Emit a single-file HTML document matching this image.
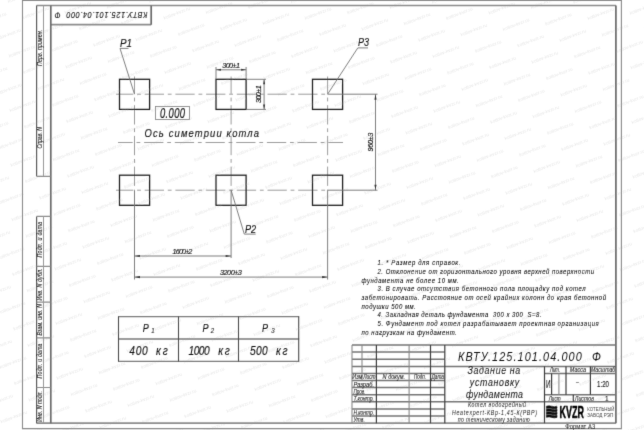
<!DOCTYPE html>
<html><head><meta charset="utf-8">
<style>
html,body{margin:0;padding:0;background:#fff;}
body{width:644px;height:430px;overflow:hidden;}
svg{display:block;filter:grayscale(1);}
text{font-family:"Liberation Sans",sans-serif;white-space:pre;stroke:#111;}
text.wm{stroke:none;}
</style></head><body>
<svg width="644" height="430" viewBox="0 0 644 430" fill="#111">
<defs><filter id="bl" x="0" y="0" width="644" height="430" filterUnits="userSpaceOnUse"><feConvolveMatrix order="3" kernelMatrix="0.01 0.08 0.01 0.08 0.64 0.08 0.01 0.08 0.01" edgeMode="duplicate"/></filter></defs>
<rect x="0" y="0" width="644" height="430" fill="#fff"/>
<g filter="url(#bl)">

<defs><g id="wm"><text class="wm" x="-14" y="1.5" font-size="4.6" textLength="28" lengthAdjust="spacingAndGlyphs" fill="#e6e6e6" transform="rotate(-21)">kotlov-kvzr.ru</text></g></defs>
<g>
<use href="#wm" x="-14.0" y="438.7"/>
<use href="#wm" x="-14.9" y="384.1"/>
<use href="#wm" x="-0.5" y="400.5"/>
<use href="#wm" x="13.9" y="416.9"/>
<use href="#wm" x="28.3" y="433.3"/>
<use href="#wm" x="-15.8" y="329.5"/>
<use href="#wm" x="-1.4" y="345.9"/>
<use href="#wm" x="13.0" y="362.3"/>
<use href="#wm" x="27.4" y="378.7"/>
<use href="#wm" x="41.8" y="395.1"/>
<use href="#wm" x="56.2" y="411.5"/>
<use href="#wm" x="70.6" y="427.9"/>
<use href="#wm" x="-16.7" y="274.9"/>
<use href="#wm" x="-2.3" y="291.3"/>
<use href="#wm" x="12.1" y="307.7"/>
<use href="#wm" x="26.5" y="324.1"/>
<use href="#wm" x="40.9" y="340.5"/>
<use href="#wm" x="55.3" y="356.9"/>
<use href="#wm" x="69.7" y="373.3"/>
<use href="#wm" x="84.1" y="389.7"/>
<use href="#wm" x="98.5" y="406.1"/>
<use href="#wm" x="112.9" y="422.5"/>
<use href="#wm" x="127.3" y="438.9"/>
<use href="#wm" x="-17.6" y="220.3"/>
<use href="#wm" x="-3.2" y="236.7"/>
<use href="#wm" x="11.2" y="253.1"/>
<use href="#wm" x="25.6" y="269.5"/>
<use href="#wm" x="40.0" y="285.9"/>
<use href="#wm" x="54.4" y="302.3"/>
<use href="#wm" x="68.8" y="318.7"/>
<use href="#wm" x="83.2" y="335.1"/>
<use href="#wm" x="97.6" y="351.5"/>
<use href="#wm" x="112.0" y="367.9"/>
<use href="#wm" x="126.4" y="384.3"/>
<use href="#wm" x="140.8" y="400.7"/>
<use href="#wm" x="155.2" y="417.1"/>
<use href="#wm" x="169.6" y="433.5"/>
<use href="#wm" x="-18.5" y="165.7"/>
<use href="#wm" x="-4.1" y="182.1"/>
<use href="#wm" x="10.3" y="198.5"/>
<use href="#wm" x="24.7" y="214.9"/>
<use href="#wm" x="39.1" y="231.3"/>
<use href="#wm" x="53.5" y="247.7"/>
<use href="#wm" x="67.9" y="264.1"/>
<use href="#wm" x="82.3" y="280.5"/>
<use href="#wm" x="96.7" y="296.9"/>
<use href="#wm" x="111.1" y="313.3"/>
<use href="#wm" x="125.5" y="329.7"/>
<use href="#wm" x="139.9" y="346.1"/>
<use href="#wm" x="154.3" y="362.5"/>
<use href="#wm" x="168.7" y="378.9"/>
<use href="#wm" x="183.1" y="395.3"/>
<use href="#wm" x="197.5" y="411.7"/>
<use href="#wm" x="211.9" y="428.1"/>
<use href="#wm" x="-19.4" y="111.1"/>
<use href="#wm" x="-5.0" y="127.5"/>
<use href="#wm" x="9.4" y="143.9"/>
<use href="#wm" x="23.8" y="160.3"/>
<use href="#wm" x="38.2" y="176.7"/>
<use href="#wm" x="52.6" y="193.1"/>
<use href="#wm" x="67.0" y="209.5"/>
<use href="#wm" x="81.4" y="225.9"/>
<use href="#wm" x="95.8" y="242.3"/>
<use href="#wm" x="110.2" y="258.7"/>
<use href="#wm" x="124.6" y="275.1"/>
<use href="#wm" x="139.0" y="291.5"/>
<use href="#wm" x="153.4" y="307.9"/>
<use href="#wm" x="167.8" y="324.3"/>
<use href="#wm" x="182.2" y="340.7"/>
<use href="#wm" x="196.6" y="357.1"/>
<use href="#wm" x="211.0" y="373.5"/>
<use href="#wm" x="225.4" y="389.9"/>
<use href="#wm" x="239.8" y="406.3"/>
<use href="#wm" x="254.2" y="422.7"/>
<use href="#wm" x="268.6" y="439.1"/>
<use href="#wm" x="-5.9" y="72.9"/>
<use href="#wm" x="8.5" y="89.3"/>
<use href="#wm" x="22.9" y="105.7"/>
<use href="#wm" x="37.3" y="122.1"/>
<use href="#wm" x="51.7" y="138.5"/>
<use href="#wm" x="66.1" y="154.9"/>
<use href="#wm" x="80.5" y="171.3"/>
<use href="#wm" x="94.9" y="187.7"/>
<use href="#wm" x="109.3" y="204.1"/>
<use href="#wm" x="123.7" y="220.5"/>
<use href="#wm" x="138.1" y="236.9"/>
<use href="#wm" x="152.5" y="253.3"/>
<use href="#wm" x="166.9" y="269.7"/>
<use href="#wm" x="181.3" y="286.1"/>
<use href="#wm" x="195.7" y="302.5"/>
<use href="#wm" x="210.1" y="318.9"/>
<use href="#wm" x="224.5" y="335.3"/>
<use href="#wm" x="238.9" y="351.7"/>
<use href="#wm" x="253.3" y="368.1"/>
<use href="#wm" x="267.7" y="384.5"/>
<use href="#wm" x="282.1" y="400.9"/>
<use href="#wm" x="296.5" y="417.3"/>
<use href="#wm" x="310.9" y="433.7"/>
<use href="#wm" x="-6.8" y="18.3"/>
<use href="#wm" x="7.6" y="34.7"/>
<use href="#wm" x="22.0" y="51.1"/>
<use href="#wm" x="36.4" y="67.5"/>
<use href="#wm" x="50.8" y="83.9"/>
<use href="#wm" x="65.2" y="100.3"/>
<use href="#wm" x="79.6" y="116.7"/>
<use href="#wm" x="94.0" y="133.1"/>
<use href="#wm" x="108.4" y="149.5"/>
<use href="#wm" x="122.8" y="165.9"/>
<use href="#wm" x="137.2" y="182.3"/>
<use href="#wm" x="151.6" y="198.7"/>
<use href="#wm" x="166.0" y="215.1"/>
<use href="#wm" x="180.4" y="231.5"/>
<use href="#wm" x="194.8" y="247.9"/>
<use href="#wm" x="209.2" y="264.3"/>
<use href="#wm" x="223.6" y="280.7"/>
<use href="#wm" x="238.0" y="297.1"/>
<use href="#wm" x="252.4" y="313.5"/>
<use href="#wm" x="266.8" y="329.9"/>
<use href="#wm" x="281.2" y="346.3"/>
<use href="#wm" x="295.6" y="362.7"/>
<use href="#wm" x="310.0" y="379.1"/>
<use href="#wm" x="324.4" y="395.5"/>
<use href="#wm" x="338.8" y="411.9"/>
<use href="#wm" x="353.2" y="428.3"/>
<use href="#wm" x="21.1" y="-3.5"/>
<use href="#wm" x="35.5" y="12.9"/>
<use href="#wm" x="49.9" y="29.3"/>
<use href="#wm" x="64.3" y="45.7"/>
<use href="#wm" x="78.7" y="62.1"/>
<use href="#wm" x="93.1" y="78.5"/>
<use href="#wm" x="107.5" y="94.9"/>
<use href="#wm" x="121.9" y="111.3"/>
<use href="#wm" x="136.3" y="127.7"/>
<use href="#wm" x="150.7" y="144.1"/>
<use href="#wm" x="165.1" y="160.5"/>
<use href="#wm" x="179.5" y="176.9"/>
<use href="#wm" x="193.9" y="193.3"/>
<use href="#wm" x="208.3" y="209.7"/>
<use href="#wm" x="222.7" y="226.1"/>
<use href="#wm" x="237.1" y="242.5"/>
<use href="#wm" x="251.5" y="258.9"/>
<use href="#wm" x="265.9" y="275.3"/>
<use href="#wm" x="280.3" y="291.7"/>
<use href="#wm" x="294.7" y="308.1"/>
<use href="#wm" x="309.1" y="324.5"/>
<use href="#wm" x="323.5" y="340.9"/>
<use href="#wm" x="337.9" y="357.3"/>
<use href="#wm" x="352.3" y="373.7"/>
<use href="#wm" x="366.7" y="390.1"/>
<use href="#wm" x="381.1" y="406.5"/>
<use href="#wm" x="395.5" y="422.9"/>
<use href="#wm" x="409.9" y="439.3"/>
<use href="#wm" x="63.4" y="-8.9"/>
<use href="#wm" x="77.8" y="7.5"/>
<use href="#wm" x="92.2" y="23.9"/>
<use href="#wm" x="106.6" y="40.3"/>
<use href="#wm" x="121.0" y="56.7"/>
<use href="#wm" x="135.4" y="73.1"/>
<use href="#wm" x="149.8" y="89.5"/>
<use href="#wm" x="164.2" y="105.9"/>
<use href="#wm" x="178.6" y="122.3"/>
<use href="#wm" x="193.0" y="138.7"/>
<use href="#wm" x="207.4" y="155.1"/>
<use href="#wm" x="221.8" y="171.5"/>
<use href="#wm" x="236.2" y="187.9"/>
<use href="#wm" x="250.6" y="204.3"/>
<use href="#wm" x="265.0" y="220.7"/>
<use href="#wm" x="279.4" y="237.1"/>
<use href="#wm" x="293.8" y="253.5"/>
<use href="#wm" x="308.2" y="269.9"/>
<use href="#wm" x="322.6" y="286.3"/>
<use href="#wm" x="337.0" y="302.7"/>
<use href="#wm" x="351.4" y="319.1"/>
<use href="#wm" x="365.8" y="335.5"/>
<use href="#wm" x="380.2" y="351.9"/>
<use href="#wm" x="394.6" y="368.3"/>
<use href="#wm" x="409.0" y="384.7"/>
<use href="#wm" x="423.4" y="401.1"/>
<use href="#wm" x="437.8" y="417.5"/>
<use href="#wm" x="452.2" y="433.9"/>
<use href="#wm" x="120.1" y="2.1"/>
<use href="#wm" x="134.5" y="18.5"/>
<use href="#wm" x="148.9" y="34.9"/>
<use href="#wm" x="163.3" y="51.3"/>
<use href="#wm" x="177.7" y="67.7"/>
<use href="#wm" x="192.1" y="84.1"/>
<use href="#wm" x="206.5" y="100.5"/>
<use href="#wm" x="220.9" y="116.9"/>
<use href="#wm" x="235.3" y="133.3"/>
<use href="#wm" x="249.7" y="149.7"/>
<use href="#wm" x="264.1" y="166.1"/>
<use href="#wm" x="278.5" y="182.5"/>
<use href="#wm" x="292.9" y="198.9"/>
<use href="#wm" x="307.3" y="215.3"/>
<use href="#wm" x="321.7" y="231.7"/>
<use href="#wm" x="336.1" y="248.1"/>
<use href="#wm" x="350.5" y="264.5"/>
<use href="#wm" x="364.9" y="280.9"/>
<use href="#wm" x="379.3" y="297.3"/>
<use href="#wm" x="393.7" y="313.7"/>
<use href="#wm" x="408.1" y="330.1"/>
<use href="#wm" x="422.5" y="346.5"/>
<use href="#wm" x="436.9" y="362.9"/>
<use href="#wm" x="451.3" y="379.3"/>
<use href="#wm" x="465.7" y="395.7"/>
<use href="#wm" x="480.1" y="412.1"/>
<use href="#wm" x="494.5" y="428.5"/>
<use href="#wm" x="162.4" y="-3.3"/>
<use href="#wm" x="176.8" y="13.1"/>
<use href="#wm" x="191.2" y="29.5"/>
<use href="#wm" x="205.6" y="45.9"/>
<use href="#wm" x="220.0" y="62.3"/>
<use href="#wm" x="234.4" y="78.7"/>
<use href="#wm" x="248.8" y="95.1"/>
<use href="#wm" x="263.2" y="111.5"/>
<use href="#wm" x="277.6" y="127.9"/>
<use href="#wm" x="292.0" y="144.3"/>
<use href="#wm" x="306.4" y="160.7"/>
<use href="#wm" x="320.8" y="177.1"/>
<use href="#wm" x="335.2" y="193.5"/>
<use href="#wm" x="349.6" y="209.9"/>
<use href="#wm" x="364.0" y="226.3"/>
<use href="#wm" x="378.4" y="242.7"/>
<use href="#wm" x="392.8" y="259.1"/>
<use href="#wm" x="407.2" y="275.5"/>
<use href="#wm" x="421.6" y="291.9"/>
<use href="#wm" x="436.0" y="308.3"/>
<use href="#wm" x="450.4" y="324.7"/>
<use href="#wm" x="464.8" y="341.1"/>
<use href="#wm" x="479.2" y="357.5"/>
<use href="#wm" x="493.6" y="373.9"/>
<use href="#wm" x="508.0" y="390.3"/>
<use href="#wm" x="522.4" y="406.7"/>
<use href="#wm" x="536.8" y="423.1"/>
<use href="#wm" x="551.2" y="439.5"/>
<use href="#wm" x="204.7" y="-8.7"/>
<use href="#wm" x="219.1" y="7.7"/>
<use href="#wm" x="233.5" y="24.1"/>
<use href="#wm" x="247.9" y="40.5"/>
<use href="#wm" x="262.3" y="56.9"/>
<use href="#wm" x="276.7" y="73.3"/>
<use href="#wm" x="291.1" y="89.7"/>
<use href="#wm" x="305.5" y="106.1"/>
<use href="#wm" x="319.9" y="122.5"/>
<use href="#wm" x="334.3" y="138.9"/>
<use href="#wm" x="348.7" y="155.3"/>
<use href="#wm" x="363.1" y="171.7"/>
<use href="#wm" x="377.5" y="188.1"/>
<use href="#wm" x="391.9" y="204.5"/>
<use href="#wm" x="406.3" y="220.9"/>
<use href="#wm" x="420.7" y="237.3"/>
<use href="#wm" x="435.1" y="253.7"/>
<use href="#wm" x="449.5" y="270.1"/>
<use href="#wm" x="463.9" y="286.5"/>
<use href="#wm" x="478.3" y="302.9"/>
<use href="#wm" x="492.7" y="319.3"/>
<use href="#wm" x="507.1" y="335.7"/>
<use href="#wm" x="521.5" y="352.1"/>
<use href="#wm" x="535.9" y="368.5"/>
<use href="#wm" x="550.3" y="384.9"/>
<use href="#wm" x="564.7" y="401.3"/>
<use href="#wm" x="579.1" y="417.7"/>
<use href="#wm" x="593.5" y="434.1"/>
<use href="#wm" x="261.4" y="2.3"/>
<use href="#wm" x="275.8" y="18.7"/>
<use href="#wm" x="290.2" y="35.1"/>
<use href="#wm" x="304.6" y="51.5"/>
<use href="#wm" x="319.0" y="67.9"/>
<use href="#wm" x="333.4" y="84.3"/>
<use href="#wm" x="347.8" y="100.7"/>
<use href="#wm" x="362.2" y="117.1"/>
<use href="#wm" x="376.6" y="133.5"/>
<use href="#wm" x="391.0" y="149.9"/>
<use href="#wm" x="405.4" y="166.3"/>
<use href="#wm" x="419.8" y="182.7"/>
<use href="#wm" x="434.2" y="199.1"/>
<use href="#wm" x="448.6" y="215.5"/>
<use href="#wm" x="463.0" y="231.9"/>
<use href="#wm" x="477.4" y="248.3"/>
<use href="#wm" x="491.8" y="264.7"/>
<use href="#wm" x="506.2" y="281.1"/>
<use href="#wm" x="520.6" y="297.5"/>
<use href="#wm" x="535.0" y="313.9"/>
<use href="#wm" x="549.4" y="330.3"/>
<use href="#wm" x="563.8" y="346.7"/>
<use href="#wm" x="578.2" y="363.1"/>
<use href="#wm" x="592.6" y="379.5"/>
<use href="#wm" x="607.0" y="395.9"/>
<use href="#wm" x="621.4" y="412.3"/>
<use href="#wm" x="635.8" y="428.7"/>
<use href="#wm" x="303.7" y="-3.1"/>
<use href="#wm" x="318.1" y="13.3"/>
<use href="#wm" x="332.5" y="29.7"/>
<use href="#wm" x="346.9" y="46.1"/>
<use href="#wm" x="361.3" y="62.5"/>
<use href="#wm" x="375.7" y="78.9"/>
<use href="#wm" x="390.1" y="95.3"/>
<use href="#wm" x="404.5" y="111.7"/>
<use href="#wm" x="418.9" y="128.1"/>
<use href="#wm" x="433.3" y="144.5"/>
<use href="#wm" x="447.7" y="160.9"/>
<use href="#wm" x="462.1" y="177.3"/>
<use href="#wm" x="476.5" y="193.7"/>
<use href="#wm" x="490.9" y="210.1"/>
<use href="#wm" x="505.3" y="226.5"/>
<use href="#wm" x="519.7" y="242.9"/>
<use href="#wm" x="534.1" y="259.3"/>
<use href="#wm" x="548.5" y="275.7"/>
<use href="#wm" x="562.9" y="292.1"/>
<use href="#wm" x="577.3" y="308.5"/>
<use href="#wm" x="591.7" y="324.9"/>
<use href="#wm" x="606.1" y="341.3"/>
<use href="#wm" x="620.5" y="357.7"/>
<use href="#wm" x="634.9" y="374.1"/>
<use href="#wm" x="649.3" y="390.5"/>
<use href="#wm" x="663.7" y="406.9"/>
<use href="#wm" x="346.0" y="-8.5"/>
<use href="#wm" x="360.4" y="7.9"/>
<use href="#wm" x="374.8" y="24.3"/>
<use href="#wm" x="389.2" y="40.7"/>
<use href="#wm" x="403.6" y="57.1"/>
<use href="#wm" x="418.0" y="73.5"/>
<use href="#wm" x="432.4" y="89.9"/>
<use href="#wm" x="446.8" y="106.3"/>
<use href="#wm" x="461.2" y="122.7"/>
<use href="#wm" x="475.6" y="139.1"/>
<use href="#wm" x="490.0" y="155.5"/>
<use href="#wm" x="504.4" y="171.9"/>
<use href="#wm" x="518.8" y="188.3"/>
<use href="#wm" x="533.2" y="204.7"/>
<use href="#wm" x="547.6" y="221.1"/>
<use href="#wm" x="562.0" y="237.5"/>
<use href="#wm" x="576.4" y="253.9"/>
<use href="#wm" x="590.8" y="270.3"/>
<use href="#wm" x="605.2" y="286.7"/>
<use href="#wm" x="619.6" y="303.1"/>
<use href="#wm" x="634.0" y="319.5"/>
<use href="#wm" x="648.4" y="335.9"/>
<use href="#wm" x="662.8" y="352.3"/>
<use href="#wm" x="402.7" y="2.5"/>
<use href="#wm" x="417.1" y="18.9"/>
<use href="#wm" x="431.5" y="35.3"/>
<use href="#wm" x="445.9" y="51.7"/>
<use href="#wm" x="460.3" y="68.1"/>
<use href="#wm" x="474.7" y="84.5"/>
<use href="#wm" x="489.1" y="100.9"/>
<use href="#wm" x="503.5" y="117.3"/>
<use href="#wm" x="517.9" y="133.7"/>
<use href="#wm" x="532.3" y="150.1"/>
<use href="#wm" x="546.7" y="166.5"/>
<use href="#wm" x="561.1" y="182.9"/>
<use href="#wm" x="575.5" y="199.3"/>
<use href="#wm" x="589.9" y="215.7"/>
<use href="#wm" x="604.3" y="232.1"/>
<use href="#wm" x="618.7" y="248.5"/>
<use href="#wm" x="633.1" y="264.9"/>
<use href="#wm" x="647.5" y="281.3"/>
<use href="#wm" x="661.9" y="297.7"/>
<use href="#wm" x="445.0" y="-2.9"/>
<use href="#wm" x="459.4" y="13.5"/>
<use href="#wm" x="473.8" y="29.9"/>
<use href="#wm" x="488.2" y="46.3"/>
<use href="#wm" x="502.6" y="62.7"/>
<use href="#wm" x="517.0" y="79.1"/>
<use href="#wm" x="531.4" y="95.5"/>
<use href="#wm" x="545.8" y="111.9"/>
<use href="#wm" x="560.2" y="128.3"/>
<use href="#wm" x="574.6" y="144.7"/>
<use href="#wm" x="589.0" y="161.1"/>
<use href="#wm" x="603.4" y="177.5"/>
<use href="#wm" x="617.8" y="193.9"/>
<use href="#wm" x="632.2" y="210.3"/>
<use href="#wm" x="646.6" y="226.7"/>
<use href="#wm" x="661.0" y="243.1"/>
<use href="#wm" x="487.3" y="-8.3"/>
<use href="#wm" x="501.7" y="8.1"/>
<use href="#wm" x="516.1" y="24.5"/>
<use href="#wm" x="530.5" y="40.9"/>
<use href="#wm" x="544.9" y="57.3"/>
<use href="#wm" x="559.3" y="73.7"/>
<use href="#wm" x="573.7" y="90.1"/>
<use href="#wm" x="588.1" y="106.5"/>
<use href="#wm" x="602.5" y="122.9"/>
<use href="#wm" x="616.9" y="139.3"/>
<use href="#wm" x="631.3" y="155.7"/>
<use href="#wm" x="645.7" y="172.1"/>
<use href="#wm" x="660.1" y="188.5"/>
<use href="#wm" x="544.0" y="2.7"/>
<use href="#wm" x="558.4" y="19.1"/>
<use href="#wm" x="572.8" y="35.5"/>
<use href="#wm" x="587.2" y="51.9"/>
<use href="#wm" x="601.6" y="68.3"/>
<use href="#wm" x="616.0" y="84.7"/>
<use href="#wm" x="630.4" y="101.1"/>
<use href="#wm" x="644.8" y="117.5"/>
<use href="#wm" x="659.2" y="133.9"/>
<use href="#wm" x="586.3" y="-2.7"/>
<use href="#wm" x="600.7" y="13.7"/>
<use href="#wm" x="615.1" y="30.1"/>
<use href="#wm" x="629.5" y="46.5"/>
<use href="#wm" x="643.9" y="62.9"/>
<use href="#wm" x="658.3" y="79.3"/>
<use href="#wm" x="628.6" y="-8.1"/>
<use href="#wm" x="643.0" y="8.3"/>
<use href="#wm" x="657.4" y="24.7"/>
</g>
<g fill="none" stroke="#8a8a8a" stroke-width="1.1"><path d="M22.5 0.4 H621.4 V428.6 H22.5 Z"/></g>
<g fill="none" stroke-width="1.7">
<path stroke="#8c8c8c" d="M36.6 5.5 H615.9 M36.5 423.2 H615.9 M50.6 24.7 H151.2"/>
<path stroke="#6a6a6a" d="M50.8 5.5 V423.2 M615.9 5.5 V423.2 M151.2 5.5 V24.7"/>
</g>
<g fill="none" stroke-width="1.2">
<path stroke="#5a5a5a" d="M36.6 5.5 V176.3 M36.6 216.4 V423.2"/>
<path stroke="#8c8c8c" d="M36.6 176.3 H50.6 M36.6 216.4 H50.6 M36.6 266.3 H50.6 M36.6 302.2 H50.6 M36.6 337.8 H50.6 M36.6 387.5 H50.6"/>
</g>
<g fill="none" stroke="#999" stroke-width="1"><path d="M43.5 5.5 V176.3 M43.5 216.4 V423.2"/></g>
<g fill="none" stroke="#8a8a8a" stroke-width="0.85" stroke-dasharray="19.3 3.8 3.8 3.8" stroke-dashoffset="2">
<path d="M116 94.2 H327.6"/>
<path d="M116 190.2 H327.6"/>
<path d="M118 142.5 H343" stroke-dashoffset="4.6"/>
<path d="M134.5 76.5 V190.2"/>
<path d="M231.1 76.5 V190.2"/>
<path d="M327.6 76.5 V190.2"/>
</g>
<g fill="none" stroke="#222" stroke-width="1.3">
<rect x="119.5" y="79.3" width="30.1" height="30.1"/>
<rect x="216.0" y="79.3" width="30.1" height="30.1"/>
<rect x="312.5" y="79.3" width="30.1" height="30.1"/>
<rect x="119.5" y="175.2" width="30.1" height="30.1"/>
<rect x="216.0" y="175.2" width="30.1" height="30.1"/>
<rect x="312.5" y="175.2" width="30.1" height="30.1"/>
</g>
<g fill="none" stroke="#707070" stroke-width="0.9">
<path d="M134.5 190.2 V279.5"/>
<path d="M231.1 190.2 V258"/>
<path d="M327.6 190.2 V279.5"/>
<path d="M327.6 94.2 H377.5"/>
<path d="M327.6 190.2 H377.5"/>
<path d="M375.5 94.2 V190.2"/>
<path d="M134.5 256 H231.1"/>
<path d="M134.5 277.1 H327.6"/>
<path d="M216 67 V79 M246.1 67 V79 M216 69.8 H246.1"/>
<path d="M246.1 79.3 H266 M246.1 109.4 H266 M264.1 79.3 V109.4"/>
</g>
<g fill="#333" stroke="none">
<path d="M375.5 94.2 L376.60 99.70 L374.40 99.70 Z"/>
<path d="M375.5 190.2 L374.40 184.70 L376.60 184.70 Z"/>
<path d="M134.5 256 L140.00 254.90 L140.00 257.10 Z"/>
<path d="M231.1 256 L225.60 257.10 L225.60 254.90 Z"/>
<path d="M134.5 277.1 L140.00 276.00 L140.00 278.20 Z"/>
<path d="M327.6 277.1 L322.10 278.20 L322.10 276.00 Z"/>
<path d="M216 69.8 L221.00 68.80 L221.00 70.80 Z"/>
<path d="M246.1 69.8 L241.10 70.80 L241.10 68.80 Z"/>
<path d="M264.1 79.3 L265.10 84.30 L263.10 84.30 Z"/>
<path d="M264.1 109.4 L263.10 104.40 L265.10 104.40 Z"/>
</g>
<g fill="none" stroke="#707070" stroke-width="0.9">
<path d="M134.5 94.2 L120 48.4 H128.5"/>
<path d="M327.6 94.2 L357.8 47.9 H368"/>
<path d="M231.1 190.2 L244.3 234.1 H255.7"/>
</g>
<rect x="155.5" y="106.5" width="34" height="13" fill="none" stroke="#8a8a8a" stroke-width="0.9"/>
<text x="120" y="46.6" font-size="10.8" font-style="italic" textLength="12" lengthAdjust="spacingAndGlyphs" stroke-width="0.13">P1</text>
<text x="358" y="45.8" font-size="10.8" font-style="italic" textLength="11" lengthAdjust="spacingAndGlyphs" stroke-width="0.13">P3</text>
<text x="245" y="232.7" font-size="10.8" font-style="italic" textLength="11.2" lengthAdjust="spacingAndGlyphs" stroke-width="0.13">P2</text>
<text transform="translate(222.2 67.7) scale(0.92 1)" font-size="7.9" font-style="italic" textLength="19.35" lengthAdjust="spacing" stroke-width="0.16">300±1</text>
<g transform="translate(260.5 103) rotate(-90)"><text transform="translate(0 0) scale(0.92 1)" font-size="7.9" font-style="italic" textLength="19.24" lengthAdjust="spacing" stroke-width="0.16">300±1</text></g>
<g transform="translate(373.4 151.5) rotate(-90)"><text transform="translate(0 0) scale(0.92 1)" font-size="7.9" font-style="italic" textLength="20.43" lengthAdjust="spacing" stroke-width="0.16">960±3</text></g>
<text transform="translate(172.6 253.7) scale(0.92 1)" font-size="7.9" font-style="italic" textLength="21.52" lengthAdjust="spacing" stroke-width="0.16">1600±2</text>
<text transform="translate(219.9 274.7) scale(0.92 1)" font-size="7.9" font-style="italic" textLength="23.91" lengthAdjust="spacing" stroke-width="0.16">3200±3</text>
<text transform="translate(160 118) scale(0.68 1)" font-size="13.8" font-style="italic" textLength="36.76" lengthAdjust="spacing" stroke-width="0.17">0.000</text>
<text transform="translate(144.5 137.1) scale(0.82 1)" font-size="11.5" font-style="italic" textLength="139.63" lengthAdjust="spacing" stroke-width="0.14">Ось симетрии котла</text>
<g fill="none" stroke="#7a7a7a" stroke-width="1.3"><path d="M118 316.6 H299.2 M118 339 H299.2 M118 361.4 H299.2"/></g>
<g fill="none" stroke="#4a4a4a" stroke-width="1.1"><path d="M118.5 316.6 V361.4 M178.5 316.6 V361.4 M238.5 316.6 V361.4 M298.7 316.6 V361.4"/></g>
<text transform="translate(142.8 332) scale(0.82 1)" font-size="11" font-style="italic" textLength="8.54" lengthAdjust="spacing" stroke-width="0.13">P</text>
<text x="151.3" y="332.6" font-size="6.3" font-style="italic" textLength="3.4" lengthAdjust="spacingAndGlyphs" stroke-width="0.08">1</text>
<text transform="translate(129.2 354.8) scale(0.82 1)" font-size="12.5" font-style="italic" textLength="22.68" lengthAdjust="spacing" stroke-width="0.15">400</text>
<text transform="translate(156.1 354.8) scale(0.82 1)" font-size="12.5" font-style="italic" textLength="14.15" lengthAdjust="spacing" stroke-width="0.15">кг</text>
<text transform="translate(202.4 332) scale(0.82 1)" font-size="11" font-style="italic" textLength="8.54" lengthAdjust="spacing" stroke-width="0.13">P</text>
<text x="210.7" y="332.6" font-size="6.3" font-style="italic" textLength="3.4" lengthAdjust="spacingAndGlyphs" stroke-width="0.08">2</text>
<text transform="translate(188.4 354.8) scale(0.82 1)" font-size="12.5" font-style="italic" textLength="26.10" lengthAdjust="spacing" stroke-width="0.15">1000</text>
<text transform="translate(218.2 354.8) scale(0.82 1)" font-size="12.5" font-style="italic" textLength="14.15" lengthAdjust="spacing" stroke-width="0.15">кг</text>
<text transform="translate(262 332) scale(0.82 1)" font-size="11" font-style="italic" textLength="8.54" lengthAdjust="spacing" stroke-width="0.13">P</text>
<text x="271.3" y="332.6" font-size="6.3" font-style="italic" textLength="3.4" lengthAdjust="spacingAndGlyphs" stroke-width="0.08">3</text>
<text transform="translate(249.9 354.8) scale(0.82 1)" font-size="12.5" font-style="italic" textLength="21.59" lengthAdjust="spacing" stroke-width="0.15">500</text>
<text transform="translate(276 354.8) scale(0.82 1)" font-size="12.5" font-style="italic" textLength="14.15" lengthAdjust="spacing" stroke-width="0.15">кг</text>
<text transform="translate(377.5 265) scale(0.8 1)" font-size="7.5" font-style="italic" textLength="103.75" lengthAdjust="spacing" fill="#000" stroke-width="0.07">1. * Размер для справок.</text>
<text transform="translate(377.5 274) scale(0.8 1)" font-size="7.5" font-style="italic" textLength="270.62" lengthAdjust="spacing" fill="#000" stroke-width="0.07">2. Отклонение от горизонтального уровня верхней поверхности</text>
<text transform="translate(361.5 283) scale(0.8 1)" font-size="7.5" font-style="italic" textLength="121.62" lengthAdjust="spacing" fill="#000" stroke-width="0.07">фундамента не более 10 мм.</text>
<text transform="translate(377.5 291) scale(0.8 1)" font-size="7.5" font-style="italic" textLength="260.25" lengthAdjust="spacing" fill="#000" stroke-width="0.07">3. В случае отсутствия бетонного пола площадку под котел</text>
<text transform="translate(361.5 300) scale(0.8 1)" font-size="7.5" font-style="italic" textLength="305.62" lengthAdjust="spacing" fill="#000" stroke-width="0.07">забетонировать. Расстояние от осей крайних колонн до края бетонной</text>
<text transform="translate(361.5 309) scale(0.8 1)" font-size="7.5" font-style="italic" textLength="67.87" lengthAdjust="spacing" fill="#000" stroke-width="0.07">подушки 500 мм.</text>
<text transform="translate(377.5 317) scale(0.8 1)" font-size="7.5" font-style="italic" textLength="204.88" lengthAdjust="spacing" fill="#000" stroke-width="0.07">4. Закладная деталь фундамента  300 x 300  S=8.</text>
<text transform="translate(377.5 326) scale(0.8 1)" font-size="7.5" font-style="italic" textLength="276.62" lengthAdjust="spacing" fill="#000" stroke-width="0.07">5. Фундамент под котел разрабатывает проектная организация</text>
<text transform="translate(361.5 335) scale(0.8 1)" font-size="7.5" font-style="italic" textLength="119.12" lengthAdjust="spacing" fill="#000" stroke-width="0.07">по нагрузкам на фундамент.</text>
<g fill="none" stroke="#747474" stroke-width="1.5">
<path d="M352 345 H615.9"/>
<path d="M352 352.1 H444.8"/>
<path d="M352 359.2 H444.8"/>
<path d="M352 366.4 H444.8"/>
<path d="M352 373.4 H444.8"/>
<path d="M352 380.5 H444.8"/>
<path d="M352 387.6 H444.8"/>
<path d="M352 394.7 H444.8"/>
<path d="M352 401.8 H444.8"/>
<path d="M352 408.9 H444.8"/>
<path d="M352 416.1 H444.8"/>
<path d="M444.8 366.4 H615.9 M444.8 401.8 H615.9 M544.5 394.7 H615.9 M544.5 373.4 H615.9"/>
</g>
<g fill="none" stroke="#3a3a3a" stroke-width="1.2">
<path d="M376.4 345 V423.2"/>
<path d="M430.5 345 V423.2"/>
<path d="M444.8 345 V423.2"/>
<path d="M544.5 366.4 V423.2"/>
<path d="M566 366.4 V394.7 M590.4 366.4 V394.7 M573.3 394.7 V401.8 M551.6 373.4 V394.7"/>
</g>
<g fill="none" stroke="#888" stroke-width="1.1">
<path d="M352 345 V423.2 M362 345 V380.5 M409.1 345 V423.2 M558.9 373.4 V394.7"/>
</g>
<text x="352.3" y="379.3" font-size="6.3" font-style="italic" textLength="10.1" lengthAdjust="spacingAndGlyphs" stroke-width="0.08">Изм</text>
<text x="363.2" y="379.3" font-size="6.3" font-style="italic" textLength="12.4" lengthAdjust="spacingAndGlyphs" stroke-width="0.08">Лист</text>
<text x="382.6" y="379.3" font-size="6.3" font-style="italic" textLength="22.4" lengthAdjust="spacingAndGlyphs" stroke-width="0.08">N докум.</text>
<text x="414" y="379.3" font-size="6.3" font-style="italic" textLength="12" lengthAdjust="spacingAndGlyphs" stroke-width="0.08">Подп.</text>
<text x="431.5" y="379.3" font-size="6.3" font-style="italic" textLength="12.5" lengthAdjust="spacingAndGlyphs" stroke-width="0.08">Дата</text>
<text x="353.4" y="386.9" font-size="6.3" font-style="italic" textLength="20.6" lengthAdjust="spacingAndGlyphs" stroke-width="0.08">Разраб.</text>
<text x="353.4" y="393.9" font-size="6.3" font-style="italic" textLength="12.1" lengthAdjust="spacingAndGlyphs" stroke-width="0.08">Пров.</text>
<text x="353.4" y="400.9" font-size="6.3" font-style="italic" textLength="20.6" lengthAdjust="spacingAndGlyphs" stroke-width="0.08">Т.контр.</text>
<text x="353.4" y="415.1" font-size="6.3" font-style="italic" textLength="20.6" lengthAdjust="spacingAndGlyphs" stroke-width="0.08">Н.контр.</text>
<text x="353.4" y="422.1" font-size="6.3" font-style="italic" textLength="11.4" lengthAdjust="spacingAndGlyphs" stroke-width="0.08">Утв.</text>
<text x="550" y="372.4" font-size="6.3" font-style="italic" textLength="9.9" lengthAdjust="spacingAndGlyphs" stroke-width="0.08">Лит.</text>
<text x="569.8" y="372.4" font-size="6.3" font-style="italic" textLength="16.2" lengthAdjust="spacingAndGlyphs" stroke-width="0.08">Масса</text>
<text x="591" y="372.4" font-size="6.3" font-style="italic" textLength="24.2" lengthAdjust="spacingAndGlyphs" stroke-width="0.08">Масштаб</text>
<text x="548.7" y="400.6" font-size="6.3" font-style="italic" textLength="11.8" lengthAdjust="spacingAndGlyphs" stroke-width="0.08">Лист</text>
<text x="574.8" y="400.6" font-size="6.3" font-style="italic" textLength="19.2" lengthAdjust="spacingAndGlyphs" stroke-width="0.08">Листов</text>
<text x="546" y="388" font-size="10" textLength="4.6" lengthAdjust="spacingAndGlyphs" stroke-width="0.12">И</text>
<text x="576" y="384" font-size="8" textLength="3" lengthAdjust="spacingAndGlyphs" stroke-width="0.10">–</text>
<text x="597" y="387.3" font-size="9.5" textLength="12" lengthAdjust="spacingAndGlyphs" stroke-width="0.11">1:20</text>
<text x="605" y="400.6" font-size="6.5" stroke-width="0.08">1</text>
<text transform="translate(458 360.5) scale(0.8 1)" font-size="13.6" font-style="italic" textLength="154.62" lengthAdjust="spacing" stroke="none" style="stroke:none">КВТУ.125.101.04.000</text>
<text transform="translate(592 360.5) scale(0.82 1)" font-size="13.6" font-style="italic" textLength="12.20" lengthAdjust="spacing" stroke="none" style="stroke:none">Ф</text>
<text transform="translate(467.4 374.3) scale(0.82 1)" font-size="10.8" font-style="italic" textLength="64.51" lengthAdjust="spacing" stroke-width="0.05">Задание на</text>
<text transform="translate(469.8 386.3) scale(0.82 1)" font-size="10.8" font-style="italic" textLength="60.24" lengthAdjust="spacing" stroke-width="0.05">установку</text>
<text transform="translate(466 397.7) scale(0.82 1)" font-size="10.8" font-style="italic" textLength="69.51" lengthAdjust="spacing" stroke-width="0.05">фундамента</text>
<text transform="translate(468 407.2) scale(0.75 1)" font-size="7" font-style="italic" textLength="77.33" lengthAdjust="spacing" stroke="none" style="stroke:none">Котел водогрейный</text>
<text transform="translate(452 414.5) scale(0.75 1)" font-size="7" font-style="italic" textLength="113.33" lengthAdjust="spacing" stroke="none" style="stroke:none">Heatexpert-КВр-1,45-К(РВР)</text>
<text transform="translate(457.7 421.7) scale(0.75 1)" font-size="7" font-style="italic" textLength="96.00" lengthAdjust="spacing" stroke="none" style="stroke:none">по техническому заданию</text>
<text x="565.3" y="428.6" font-size="6.5" textLength="29.9" lengthAdjust="spacingAndGlyphs" stroke="none" style="stroke:none">Формат А3</text>
<path d="M546.4 406.2 q2.7 -0.9 5.3 0 t5.3 0 v2.2 q-2.7 0.9 -5.3 0 t-5.3 0 Z M546.4 409.2 q2.7 -0.9 5.3 0 t5.3 0 v2.2 q-2.7 0.9 -5.3 0 t-5.3 0 Z M546.4 412.2 q2.7 -0.9 5.3 0 t5.3 0 v2.2 q-2.7 0.9 -5.3 0 t-5.3 0 Z M546.4 415.2 q2.7 -0.9 5.3 0 t5.3 0 v2.2 q-2.7 0.9 -5.3 0 t-5.3 0 Z" fill="#111" stroke="#111" stroke-width="0.6"/>
<text x="559.6" y="417.6" font-size="17" font-weight="bold" textLength="24.4" lengthAdjust="spacingAndGlyphs" fill="#000" stroke-width="0.6">KVZR</text>
<text x="587.2" y="411.3" font-size="5.8" textLength="27.3" lengthAdjust="spacingAndGlyphs" fill="#444" stroke="none" style="stroke:none">КОТЕЛЬНЫЙ</text>
<text x="587.2" y="417" font-size="5.8" textLength="26.1" lengthAdjust="spacingAndGlyphs" fill="#444" stroke="none" style="stroke:none">ЗАВОД РЭП</text>
<g transform="translate(42.2 66) rotate(-90)"><text transform="translate(0 0) scale(0.82 1)" font-size="6.3" font-style="italic" textLength="44.15" lengthAdjust="spacing" stroke-width="0.08">Перв. примен.</text></g>
<g transform="translate(42.2 148.6) rotate(-90)"><text transform="translate(0 0) scale(0.82 1)" font-size="6.3" font-style="italic" textLength="26.46" lengthAdjust="spacing" stroke-width="0.08">Справ. N</text></g>
<g transform="translate(42.2 257.6) rotate(-90)"><text transform="translate(0 0) scale(0.82 1)" font-size="6.3" font-style="italic" textLength="43.66" lengthAdjust="spacing" stroke-width="0.08">Подп. и дата</text></g>
<g transform="translate(42.2 300.5) rotate(-90)"><text transform="translate(0 0) scale(0.82 1)" font-size="6.3" font-style="italic" textLength="39.02" lengthAdjust="spacing" stroke-width="0.08">Инв. N дубл.</text></g>
<g transform="translate(42.2 335.5) rotate(-90)"><text transform="translate(0 0) scale(0.82 1)" font-size="6.3" font-style="italic" textLength="38.41" lengthAdjust="spacing" stroke-width="0.08">Взам. инв. N</text></g>
<g transform="translate(42.2 378.4) rotate(-90)"><text transform="translate(0 0) scale(0.82 1)" font-size="6.3" font-style="italic" textLength="42.56" lengthAdjust="spacing" stroke-width="0.08">Подп. и дата</text></g>
<g transform="translate(42.2 421.7) rotate(-90)"><text transform="translate(0 0) scale(0.82 1)" font-size="6.3" font-style="italic" textLength="37.44" lengthAdjust="spacing" stroke-width="0.08">Инв. N подл.</text></g>
<g transform="translate(147.5 12.1) rotate(180)"><text transform="translate(0 0) scale(0.82 1)" font-size="9" font-style="italic" textLength="113.17" lengthAdjust="spacing" stroke-width="0.11">КВТУ.125.101.04.000  Ф</text></g>
</g></svg></body></html>
